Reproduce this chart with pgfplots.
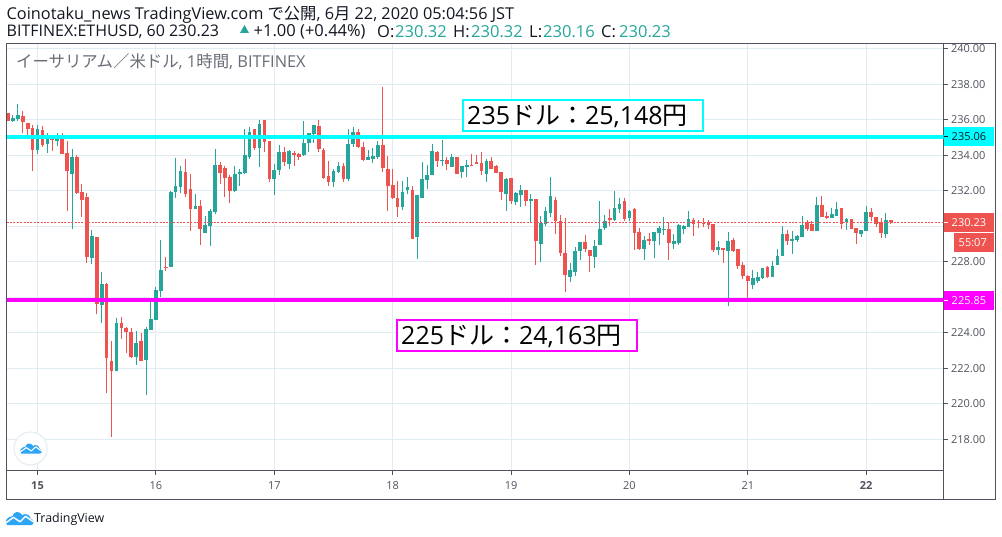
\documentclass[border=0pt]{standalone}
\usepackage{pgfplots}
\usepackage{pgfplotstable}
\usepackage{fontspec}
\pgfplotsset{compat=1.18}
\setmainfont{Open Sans}
\newfontfamily\cjk{Noto Sans CJK JP}
\definecolor{gcol}{HTML}{26A69A}
\definecolor{rcol}{HTML}{EF5350}
\definecolor{gridc}{HTML}{E1EBF2}
\definecolor{framec}{HTML}{50535E}
\definecolor{txtc}{HTML}{131722}
\definecolor{logoc}{HTML}{2CA5F5}
\definecolor{levc}{rgb}{0,1,1}
\definecolor{levm}{rgb}{1,0,1}
\pgfplotstableread{
x l b t h
-5 235.90 235.96 236.11 236.26
-4 235.96 236.05 236.28 236.90
0 234.10 234.32 235.49 235.71
2 234.15 234.66 234.92 235.26
4 234.55 234.83 235.09 235.26
7 229.87 232.97 233.91 234.36
11 227.90 228.24 229.46 229.80
13 224.58 225.59 226.75 227.43
16 221.87 221.87 224.56 224.84
20 222.21 222.64 223.43 224.11
22 220.52 222.49 224.22 224.34
23 224.18 224.18 224.78 225.76
24 224.75 224.75 226.42 226.59
25 226.04 226.38 227.54 229.23
27 227.73 227.73 231.94 232.00
28 231.62 231.96 232.28 233.85
29 231.90 232.24 233.12 233.40
32 231.00 231.00 231.15 231.83
34 229.65 229.65 230.08 230.59
35 228.91 230.04 230.87 230.98
36 230.72 230.81 233.46 234.36
40 231.96 232.00 232.95 233.40
41 232.28 232.95 233.06 233.23
42 232.95 233.03 234.02 235.49
43 233.80 233.91 235.32 235.60
45 233.35 234.42 235.77 235.99
48 231.77 232.67 233.18 233.52
49 232.90 233.18 234.19 234.59
51 233.23 233.52 234.25 234.30
54 233.97 234.02 234.70 235.94
55 234.19 234.70 235.26 235.26
56 234.70 235.21 235.71 235.71
60 232.22 232.50 233.12 233.23
61 233.01 233.06 233.40 233.63
63 232.56 232.67 234.64 235.49
64 234.47 234.64 235.32 235.60
67 233.74 233.74 233.91 234.30
68 233.57 233.80 233.97 234.42
69 233.80 233.91 234.59 234.81
74 230.92 231.09 231.94 232.56
75 231.83 232.05 232.22 232.78
77 228.16 229.40 231.77 231.77
78 231.60 231.60 232.67 233.63
79 232.11 232.61 232.90 233.46
80 232.90 232.90 234.25 234.64
82 233.40 233.68 233.74 234.87
84 233.35 233.35 233.91 234.08
86 232.73 233.06 233.40 233.40
87 232.78 233.35 233.46 233.74
91 232.50 232.95 233.68 233.80
95 230.87 231.83 232.67 232.73
97 231.21 231.37 231.88 231.94
98 231.09 231.77 232.05 232.33
100 230.19 231.43 231.54 231.83
102 228.00 229.01 230.19 230.59
103 230.02 230.14 230.87 231.09
104 230.53 230.75 231.71 232.78
108 226.87 227.15 227.54 227.94
109 227.21 227.43 228.61 228.84
110 228.11 228.61 229.12 229.12
113 227.66 228.28 228.90 229.23
114 228.95 228.95 229.85 231.43
115 229.80 229.91 230.30 230.64
117 230.30 230.36 231.04 232.00
118 230.75 230.98 231.26 231.60
120 230.30 230.47 230.87 230.92
123 228.11 228.73 229.23 229.46
125 228.22 229.18 229.68 229.68
126 228.95 229.63 229.91 230.02
127 229.52 229.80 229.85 230.53
129 228.73 229.01 229.18 229.57
130 228.95 229.06 230.08 230.14
131 229.57 229.85 230.02 230.08
132 229.97 229.97 230.42 230.87
138 228.39 228.67 228.84 229.18
140 225.52 228.61 229.18 229.68
145 226.47 226.70 227.09 227.54
146 226.81 226.92 227.15 227.43
147 227.04 227.09 227.66 227.66
149 227.15 227.15 227.77 228.05
150 227.83 227.83 228.33 228.73
151 228.33 228.33 229.57 230.02
153 228.45 229.18 229.29 229.74
154 229.12 229.23 229.46 229.52
155 229.40 229.40 230.08 230.59
158 229.74 229.74 231.21 231.66
161 230.47 230.47 230.70 231.04
162 230.59 230.59 230.98 231.37
164 229.80 230.25 230.42 230.47
167 229.40 229.57 229.80 229.80
168 229.74 229.74 230.81 231.15
172 229.35 229.57 230.36 230.75
}\greentab
\pgfplotstableread{
x l b t h
-6 235.96 235.96 236.39 236.39
-3 235.28 235.85 236.22 236.50
-2 235.00 235.49 235.83 235.83
-1 233.14 234.32 235.54 235.71
1 234.49 234.60 235.43 235.66
3 234.27 234.89 234.92 235.09
5 234.10 234.10 235.04 235.26
6 230.89 233.14 234.14 234.81
8 231.83 231.88 233.91 234.02
9 230.55 231.49 231.94 232.39
10 227.95 228.29 231.66 231.88
12 225.08 225.65 229.40 229.40
14 220.63 222.60 226.75 226.81
15 218.15 221.87 222.42 223.54
17 223.68 224.28 224.56 224.90
18 222.89 224.05 224.28 224.34
19 222.58 222.64 224.05 224.28
21 222.44 222.44 223.54 223.99
26 227.51 227.68 227.71 228.28
30 231.68 231.83 233.06 233.80
31 229.75 231.00 232.11 232.95
33 228.97 229.87 231.15 231.49
37 232.39 233.03 233.46 233.63
38 231.66 232.74 233.29 233.40
39 231.32 232.00 232.78 232.90
44 234.30 234.42 235.49 235.49
46 234.19 234.75 235.99 235.99
47 232.50 232.67 234.81 234.81
50 233.40 233.63 234.19 234.47
52 233.40 234.02 234.14 234.25
53 233.74 233.91 234.08 234.14
57 234.19 234.36 235.66 235.99
58 232.67 232.73 234.30 234.42
59 232.28 232.50 232.84 233.68
62 232.50 232.67 233.40 233.57
65 234.42 234.47 235.32 235.49
66 233.68 233.74 234.47 234.75
70 233.06 233.29 234.59 237.85
71 230.87 232.28 233.23 233.97
72 231.54 231.60 232.33 233.23
73 230.53 231.09 231.60 232.56
76 229.29 229.29 232.05 232.28
81 233.35 233.68 234.19 234.25
83 233.18 233.52 233.74 233.91
85 232.95 232.95 233.91 233.91
88 233.40 233.40 233.44 234.08
89 233.52 233.52 233.63 234.02
90 232.90 233.12 233.57 234.19
92 233.23 233.23 233.68 233.91
93 233.01 233.01 233.40 233.46
94 231.49 231.94 233.06 233.06
96 231.26 231.43 232.73 232.73
99 231.15 231.43 232.05 232.05
101 227.83 229.18 231.54 231.54
105 229.57 230.30 231.49 231.66
106 228.33 228.50 230.30 230.64
107 226.30 227.26 228.50 230.47
111 228.56 228.73 229.12 229.52
112 227.43 228.33 228.67 228.67
116 230.02 230.36 230.47 230.98
119 230.30 230.42 231.43 231.60
121 228.67 229.63 230.98 231.04
122 228.67 228.73 229.68 229.91
124 228.95 229.18 229.29 229.63
128 228.11 229.06 229.85 230.25
133 229.46 230.14 230.36 230.47
134 229.91 230.21 230.25 230.36
135 229.97 230.14 230.19 230.47
136 229.85 230.08 230.25 230.36
137 228.56 228.67 230.14 230.14
139 227.94 228.67 228.78 228.78
141 228.56 228.61 229.23 229.35
142 227.60 227.77 228.73 228.73
143 227.04 227.21 227.83 228.00
144 225.85 226.92 227.21 227.26
148 227.09 227.15 227.71 227.77
152 228.95 229.18 229.57 229.80
156 229.74 229.85 230.25 230.36
157 229.74 229.74 230.14 230.30
159 230.53 230.53 231.21 231.71
160 230.42 230.47 230.59 230.81
163 229.85 230.14 231.04 231.04
165 229.85 229.85 230.42 230.42
166 229.01 229.63 229.91 229.91
169 230.30 230.53 230.81 231.04
170 229.97 230.14 230.53 230.53
171 229.35 229.63 230.25 230.47
173 230.14 230.23 230.36 230.36
}\redtab
\newcommand{\fs}[1]{\fontsize{#1}{#1}\selectfont}
\newcommand{\cloud}[3]{% x, y (centre), scale
  \begin{scope}[shift={(#1,#2)},x=#3pt,y=#3pt]
    \fill[logoc] (-11,-6) -- (11,-6) .. controls (14,-6) and (14,-1) .. (10.5,0) .. controls (10,4) and (5,5) .. (3,3) .. controls (1,7) and (-5,7) .. (-6,2) .. controls (-10,2) and (-14,-2) .. (-11,-6) -- cycle;
    \draw[white,line width=1.3*#3pt,line join=round] (-12,-4) -- (-5,1) -- (1,-3) -- (6,2) -- (13,-3);
  \end{scope}}
\pgfplotsset{
  wick/.style={draw=none, no markers, forget plot, error bars/.cd, y dir=plus, y explicit, error mark=none, error bar style={line width=1pt, #1}},
  body/.style={draw=none, no markers, forget plot, error bars/.cd, y dir=plus, y explicit, error mark=none, error bar style={line width=3.7pt, #1}},
}
\begin{document}
\begin{tikzpicture}[x=1pt,y=1pt]
\useasboundingbox[fill=white] (0,0) rectangle (1002,537);
\begin{axis}[
  at={(6.5pt,66pt)}, anchor=south west,
  scale only axis, width=937pt, height=427.5pt,
  xmin=-6.29, xmax=183.67, ymin=216.22, ymax=240.30,
  axis line style={framec,line width=1pt},
  xtick={0,24,48,72,96,120,144,168},
  xticklabels={\textbf{15},16,17,18,19,20,21,\textbf{22}},
  ytick={218,220,222,224,226,228,230,232,234,236,238,240},
  yticklabels={218.00,220.00,222.00,224.00,,228.00,,232.00,234.00,236.00,238.00,240.00},
  xmajorgrids, ymajorgrids,
  grid style={gridc,line width=1pt},
  tick align=outside, major tick length=4pt,
  tick style={framec,line width=1pt},
  xtick pos=bottom, ytick pos=right,
  yticklabel pos=right,
  tick label style={font=\fs{11}, text=framec},
  xticklabel style={yshift=-3pt},
  clip=true,
]
\addplot[wick=gcol] table[x=x, y=l, y error expr=\thisrow{h}-\thisrow{l}] {\greentab};
\addplot[body=gcol] table[x=x, y=b, y error expr=\thisrow{t}-\thisrow{b}] {\greentab};
\addplot[wick=rcol] table[x=x, y=l, y error expr=\thisrow{h}-\thisrow{l}] {\redtab};
\addplot[body=rcol] table[x=x, y=b, y error expr=\thisrow{t}-\thisrow{b}] {\redtab};
\addplot[rcol, line width=0.8pt, dash pattern=on 2pt off 1.4pt] coordinates {(-6.29,230.23) (183.67,230.23)};
\addplot[levc, line width=4pt] coordinates {(-6.29,235.06) (183.67,235.06)};
\addplot[levm, line width=4pt] coordinates {(-6.29,225.85) (183.67,225.85)};
\end{axis}
% outer frames
\draw[framec,line width=1pt] (6.5,37) rectangle (995,493.5);
\draw[framec,line width=1pt] (943.5,37) -- (943.5,66);
% price labels
\fill[levc] (943.5,537-146) rectangle (994,537-127);
\draw[txtc,line width=1pt] (943.5,537-136.5) -- (948,537-136.5);
\node[anchor=west,inner sep=0,text=txtc,font=\fs{11}] at (951.5,537-136.5) {235.06};
\fill[rcol] (943.5,537-232) rectangle (994,537-213);
\draw[white,line width=1pt] (943.5,537-222.5) -- (948,537-222.5);
\node[anchor=west,inner sep=0,text=white,font=\fs{11}] at (951.5,537-222.5) {230.23};
\fill[rcol] (954,537-252) rectangle (994,537-233);
\node[anchor=west,inner sep=0,text=white,font=\fs{11}] at (958.5,537-242.5) {55:07};
\fill[levm] (943.5,537-310) rectangle (994,537-291);
\draw[white,line width=1pt] (943.5,537-300.5) -- (948,537-300.5);
\node[anchor=west,inner sep=0,text=white,font=\fs{11}] at (951.5,537-300.5) {225.85};
% annotation boxes
\draw[levc,fill=white,line width=2pt] (462.5,537-131) rectangle (703,537-100.5);
\node[anchor=west,inner sep=0,text=black,font=\fs{25}] at (467,537-116) {235{\cjk ドル：}25,148{\cjk 円}};
\draw[levm,fill=white,line width=2pt] (396.5,537-351) rectangle (637,537-320.5);
\node[anchor=west,inner sep=0,text=black,font=\fs{25}] at (401,537-336) {225{\cjk ドル：}24,163{\cjk 円}};
% title lines
\node[anchor=west,inner sep=0,text=txtc,font=\fs{16.3}] at (6.5,537-15) {Coinotaku\_news TradingView.com {\cjk で公開}, 6{\cjk 月} 22, 2020 05:04:56 JST};
\node[anchor=west,inner sep=0,text=txtc,font=\fs{16}] at (6.5,537-32) {BITFINEX:ETHUSD, 60 230.23};
\fill[gcol] (240,537-33) -- (249,537-33) -- (244.5,537-25) -- cycle;
\node[anchor=west,inner sep=0,text=txtc,font=\fs{16.5}] at (253.5,537-32) {+1.00 (+0.44\%)};
\node[anchor=west,inner sep=0,text=txtc,font=\fs{16.5}] at (377,537-32) {O:};
\node[anchor=west,inner sep=0,text=gcol,font=\fs{16.5}] at (395,537-32) {230.32};
\node[anchor=west,inner sep=0,text=txtc,font=\fs{16.5}] at (453,537-32) {H:};
\node[anchor=west,inner sep=0,text=gcol,font=\fs{16.5}] at (471,537-32) {230.32};
\node[anchor=west,inner sep=0,text=txtc,font=\fs{16.5}] at (529,537-32) {L:};
\node[anchor=west,inner sep=0,text=gcol,font=\fs{16.5}] at (543,537-32) {230.16};
\node[anchor=west,inner sep=0,text=txtc,font=\fs{16.5}] at (601,537-32) {C:};
\node[anchor=west,inner sep=0,text=gcol,font=\fs{16.5}] at (619,537-32) {230.23};
% watermark
\node[anchor=west,inner sep=0,text=framec!85,font=\fs{16.4}] at (16,537-62) {{\cjk イーサリアム／米ドル}, 1{\cjk 時間}, BITFINEX};
% logos
\draw[gridc,fill=white,line width=1pt] (30.5,537-448.5) circle (16.5);
\cloud{30.5}{537-448.5}{0.85}
\cloud{19}{537-518.5}{1.1}
\node[anchor=west,inner sep=0,text=txtc,font=\fs{12.4}] at (34,537-519) {TradingView};
\end{tikzpicture}
\end{document}
